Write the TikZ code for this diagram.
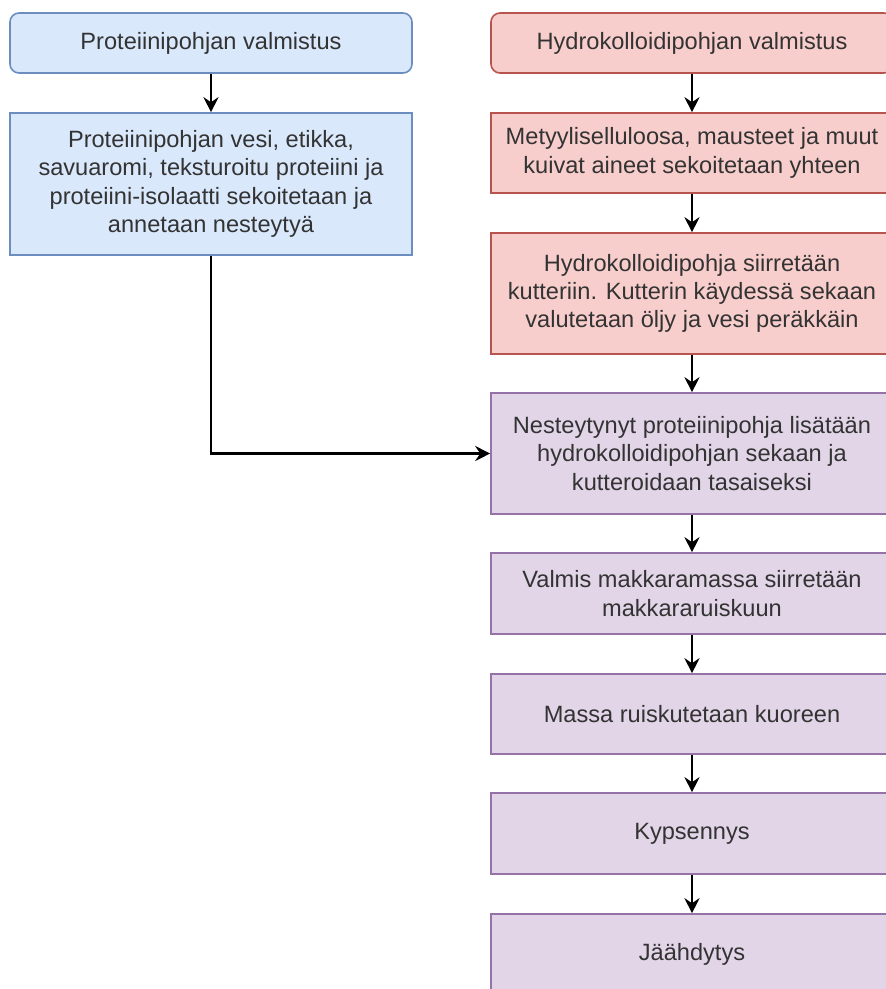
\documentclass[tikz,border=0pt]{standalone}
\usepackage{fontspec}
\setmainfont{Liberation Sans}
\usetikzlibrary{arrows.meta}
\definecolor{bfill}{HTML}{DAE8FC}\definecolor{bdraw}{HTML}{6C8EBF}
\definecolor{rfill}{HTML}{F8CECC}\definecolor{rdraw}{HTML}{B85450}
\definecolor{pfill}{HTML}{E1D5E7}\definecolor{pdraw}{HTML}{9673A6}
\definecolor{txt}{HTML}{333333}
\tikzset{
  box/.style={draw, line width=1.6pt, minimum width=402pt, inner sep=0pt, align=center,
     text=txt, font=\fontsize{23.6}{28.3}\selectfont},
  bluebox/.style={box, fill=bfill, draw=bdraw},
  redbox/.style={box, fill=rfill, draw=rdraw},
  purplebox/.style={box, fill=pfill, draw=pdraw},
  conn/.style={line width=2.2pt, draw=black, -{Stealth[length=15pt,width=15pt,inset=5pt]}}
}
\begin{document}
\begin{tikzpicture}[x=1pt,y=-1pt]
\useasboundingbox (0,0) rectangle (886,989);
\clip (0,0) rectangle (886,989);
\node[bluebox, rounded corners=9pt, minimum height=60pt] (lt) at (211,43) {Proteiinipohjan valmistus};
\node[bluebox, minimum height=142pt] (lb) at (211,184) {Proteiinipohjan vesi, etikka,\\savuaromi, teksturoitu proteiini ja\\proteiini-isolaatti sekoitetaan ja\\annetaan nesteytyä};
\node[redbox, rounded corners=9pt, minimum height=60pt] (rt) at (692,43) {Hydrokolloidipohjan valmistus};
\node[redbox, minimum height=80pt] (r1) at (692,153) {Metyyliselluloosa, mausteet ja muut\\kuivat aineet sekoitetaan yhteen};
\node[redbox, minimum height=121pt] (r2) at (692,293.5) {Hydrokolloidipohja siirretään\\kutteriin. Kutterin käydessä sekaan\\valutetaan öljy ja vesi peräkkäin};
\node[purplebox, minimum height=121pt] (p1) at (692,453.5) {Nesteytynyt proteiinipohja lisätään\\hydrokolloidipohjan sekaan ja\\kutteroidaan tasaiseksi};
\node[purplebox, minimum height=81pt] (p2) at (692,593.5) {Valmis makkaramassa siirretään\\makkararuiskuun};
\node[purplebox, minimum height=80pt] (p3) at (692,714) {Massa ruiskutetaan kuoreen};
\node[purplebox, minimum height=81pt] (p4) at (692,833.5) {Kypsennys};
\node[purplebox, minimum height=80pt] (p5) at (692,954) {Jäähdytys};
\draw[conn] (lt) -- (lb);
\draw[conn] (rt) -- (r1);
\draw[conn] (r1) -- (r2);
\draw[conn] (r2) -- (p1);
\draw[conn] (p1) -- (p2);
\draw[conn] (p2) -- (p3);
\draw[conn] (p3) -- (p4);
\draw[conn] (p4) -- (p5);
\draw[conn] (lb.south) |- (p1.west);
\end{tikzpicture}
\end{document}
